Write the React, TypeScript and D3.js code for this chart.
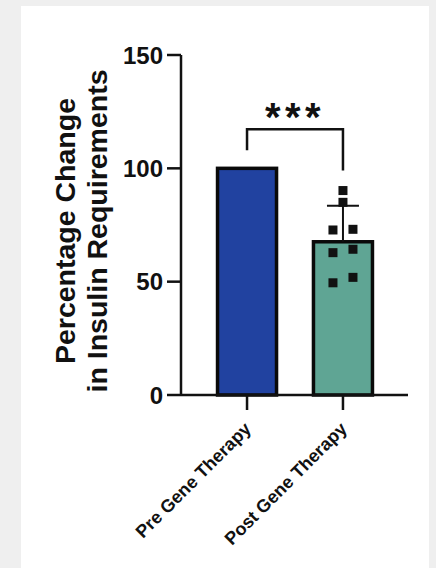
import React from "react";
import * as d3 from "d3";

const categories = ["Pre Gene Therapy", "Post Gene Therapy"];
const barMeans = [100, 67.6];
const barSD = [0, 15.9];
const barColors = ["#2142a0", "#5fa594"];
const postPoints = [90.2, 85.0, 72.8, 73.1, 62.8, 64.3, 49.5, 51.9];
const pointColumns = [0, 0, -1, 1, -1, 1, -1, 1];
const yTicks = [0, 50, 100, 150];
const yLabelLines = ["Percentage Change", "in Insulin Requirements"];
const sigLabel = "***";

const W = 436;
const H = 568;
const FONT = "'Liberation Sans', Arial, Helvetica, sans-serif";

export default function App() {
  const y = d3.scaleLinear().domain([0, 150]).range([395, 55]);
  const x = d3
    .scaleBand<string>()
    .domain(categories)
    .range([183, 407])
    .paddingInner(0.385)
    .paddingOuter(0.36);
  const bw = x.bandwidth();
  const axisX = 181;
  const cx = (c: string) => (x(c) as number) + bw / 2;
  const postC = cx(categories[1]);
  const preC = cx(categories[0]);
  const bracketY = y(117.2);

  return (
    <svg
      width={W}
      height={H}
      style={{ position: "absolute", left: 0, top: 0, display: "block" }}
      fontFamily={FONT}
    >
      <rect x={0} y={0} width={W} height={H} fill="#efefef" />
      <rect x={21} y={6} width={408} height={H - 6} fill="#ffffff" />

      {/* bars */}
      {categories.map((c, i) => (
        <rect
          key={c}
          x={x(c)}
          y={y(barMeans[i])}
          width={bw}
          height={y(0) - y(barMeans[i])}
          fill={barColors[i]}
          stroke="#0a0a0a"
          strokeWidth={3.5}
        />
      ))}

      {/* error bar for post */}
      {categories.map((c, i) =>
        barSD[i] > 0 ? (
          <g key={"e" + c} stroke="#111" strokeWidth={2}>
            <line x1={cx(c)} x2={cx(c)} y1={y(barMeans[i])} y2={y(barMeans[i] + barSD[i])} />
            <line x1={cx(c) - 16} x2={cx(c) + 16} y1={y(barMeans[i] + barSD[i])} y2={y(barMeans[i] + barSD[i])} />
          </g>
        ) : null
      )}

      {/* points */}
      {postPoints.map((v, i) => (
        <rect
          key={"p" + i}
          x={postC + pointColumns[i] * 10 - 4.5}
          y={y(v) - 4.5}
          width={9}
          height={9}
          fill="#111"
        />
      ))}

      {/* y axis */}
      <line x1={axisX} x2={axisX} y1={y(150)} y2={y(0)} stroke="#111" strokeWidth={2.5} />
      {yTicks.map((t) => (
        <g key={"t" + t}>
          <line x1={axisX - 14} x2={axisX} y1={y(t)} y2={y(t)} stroke="#111" strokeWidth={2.5} />
          <text
            x={163}
            y={y(t)}
            dy="0.36em"
            textAnchor="end"
            fontSize={24}
            fontWeight="bold"
            fill="#111"
          >
            {t}
          </text>
        </g>
      ))}

      {/* x axis */}
      <line x1={axisX} x2={408} y1={y(0)} y2={y(0)} stroke="#111" strokeWidth={2.5} />
      {categories.map((c) => (
        <g key={"x" + c}>
          <line x1={cx(c)} x2={cx(c)} y1={y(0)} y2={y(0) + 15} stroke="#111" strokeWidth={2.5} />
          <text
            transform={`translate(${cx(c) + 5},${y(0) + 35}) rotate(-45)`}
            textAnchor="end"
            fontSize={18}
            fontWeight="bold"
            fill="#111"
          >
            {c}
          </text>
        </g>
      ))}

      {/* y label */}
      {yLabelLines.map((l, i) => (
        <text
          key={l}
          transform={`translate(${75 + i * 32},231) rotate(-90)`}
          textAnchor="middle"
          fontSize={28.5}
          fontWeight="bold"
          fill="#111"
        >
          {l}
        </text>
      ))}

      {/* significance bracket */}
      <path
        d={`M${preC},${y(108)} V${bracketY} H${postC} V${y(99)}`}
        fill="none"
        stroke="#111"
        strokeWidth={2.5}
      />
      <text
        x={(preC + postC) / 2}
        y={131}
        textAnchor="middle"
        fontSize={40}
        fontWeight="bold"
        letterSpacing={4.5}
        fill="#111"
      >
        {sigLabel}
      </text>
    </svg>
  );
}
